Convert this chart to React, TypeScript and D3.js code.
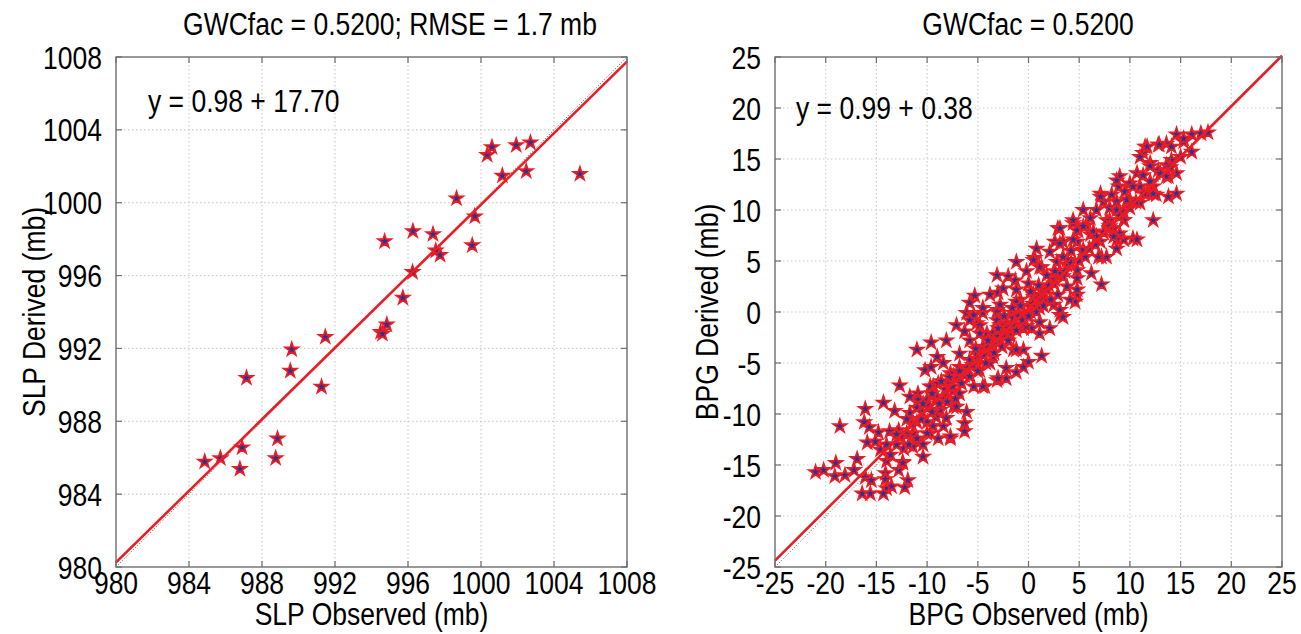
import React from "react";
import * as d3 from "d3";

// ---------- Data ----------
const slpTicks = [980, 984, 988, 992, 996, 1000, 1004, 1008];
const bpgTicks = [-25, -20, -15, -10, -5, 0, 5, 10, 15, 20, 25];

const slpObserved = [984.86, 985.72, 986.91, 986.79, 987.15, 988.85, 988.75, 989.63, 989.55, 991.26, 991.47, 994.5, 994.6, 994.84, 994.72, 995.72, 996.25, 996.27, 997.37, 997.52, 997.76, 998.66, 999.52, 999.66, 1000.34, 1000.6, 1001.17, 1001.93, 1002.71, 1002.48, 1005.42];
const slpDerived = [985.78, 985.97, 986.56, 985.38, 990.38, 987.05, 985.97, 991.94, 990.77, 989.89, 992.63, 992.9, 992.8, 993.31, 997.88, 994.78, 996.19, 998.44, 998.27, 997.37, 997.13, 1000.23, 997.66, 999.25, 1002.62, 1003.05, 1001.48, 1003.16, 1003.3, 1001.73, 1001.58];

const slpFitX = [980, 1008];
const slpFitY = [980.25, 1007.75];
const bpgFitX = [-25, 25];
const bpgFitY = [-24.37, 25.13];

const bpgPoints: [number, number][] = [
  [-12.7,-7.2],[-14.3,-8.9],[-16.1,-9.5],[-13.2,-9.7],[-18.6,-11.2],[-16.2,-10.8],[-15.7,-11.3],[-14.8,-11.8],[-15.9,-12.8],[-15.1,-12.7],[-13.7,-11.7],[-12.8,-11.6],[-12.3,-13.4],[-10.4,-14.2],[-19.0,-14.8],[-21.0,-15.7],[-20.2,-15.5],[-19.1,-16.1],[-18.1,-16.0],[-16.9,-14.4],[-17.2,-15.5],[-14.0,-14.6],[-12.4,-14.7],[-12.8,-15.5],[-16.1,-16.2],[-15.5,-16.5],[-14.1,-15.8],[-14.1,-16.4],[-14.0,-17.3],[-13.5,-17.1],[-11.9,-16.5],[-12.2,-17.2],[-16.4,-17.8],[-15.6,-17.8],[-14.3,-17.8],
  [-11.7,-9.9],[-11.0,-9.4],[-10.0,-10.8],[-9.4,-11.2],[-8.4,-11.2],[-8.1,-10.4],[-7.7,-12.4],[-8.9,-12.4],[-9.7,-11.9],[-11.0,-12.7],[-11.4,-11.9],[-12.0,-11.9],[-10.0,-8.6],[-9.4,-7.3],[-8.4,-8.3],[-7.4,-7.7],[-7.4,-9.3],[-8.7,-9.6],[-10.9,-8.0],[-7.9,-7.0],
  [-11.0,-3.7],[-9.6,-3.0],[-8.1,-2.8],[-7.1,-1.3],[-5.3,1.6],[-3.8,1.7],[-3.0,1.9],
  [-10.2,-5.7],[-9.0,-4.4],[-9.6,-5.4],[-8.4,-5.0],[-9.7,-7.3],[-8.9,-7.0],[-7.4,-6.3],[-8.2,-8.3],[-6.8,-8.0],[-5.4,-7.3],[-4.3,-7.3],[-3.1,-6.7],[-2.2,-5.5],[-1.2,-5.9],[-0.5,-3.7],[0.3,-1.6],[-1.5,-3.7],[-2.8,-2.8],[-4.1,-2.1],[-5.8,-2.8],[-6.8,-4.1],[-5.8,-4.7],[-4.8,-5.7],[-6.8,-5.4],[-5.1,-1.1],[-4.5,-0.1],[-3.1,0.2],[-1.5,-0.1],[-2.2,-1.1],[-0.8,1.2],[0.2,0.5],[-6.1,-0.1],[-5.8,0.9],[-7.7,-6.0],[-3.5,-4.4],[-4.5,-3.4],[-2.2,-6.5],[-10.9,-8.6],[-11.7,-8.3],[-9.1,-8.6],[-7.1,-9.3],
  [-2.0,3.5],[-1.3,3.1],[0.0,2.8],[0.6,5.3],[1.3,4.4],[2.9,8.2],[4.4,8.7],[4.9,8.0],[5.7,8.5],[7.2,5.4],[7.7,5.4],[6.2,3.8],[7.2,2.7],[4.8,1.7],[4.6,1.0],[3.8,2.5],[2.9,1.7],[2.5,0.7],[1.1,0.4],[0.2,0.0],[-1.2,1.0],[-2.8,0.7],[-4.5,0.4],[-5.4,-0.3],[-4.8,-1.3],[-2.8,-1.3],[-1.5,-0.6],[-0.5,-1.6],[1.1,-1.0],[2.1,-1.6],[3.1,-0.3],[0.5,1.7],[-0.2,4.0],[0.8,6.2],[2.1,5.9],[2.8,4.9],[3.4,6.9],[4.8,6.9],[5.4,5.9],[6.1,7.6],[7.1,6.9],[8.4,8.2],[9.4,9.0],[9.4,7.1],[8.7,6.2],[-2.5,2.3],[-3.1,3.6],[-1.2,4.9],[1.5,2.0],[-3.1,0.0],[-6.3,-1.9],[-3.5,-2.1],[-1.8,-2.3],[3.8,4.6],[4.8,3.3],
  [17.7,17.6],[16.1,17.4],[15.3,16.7],[14.6,17.4],[16.1,15.7],[13.6,16.5],[12.8,16.4],[11.5,16.2],[11.3,15.6],[14.1,14.9],[12.0,14.6],[12.8,13.9],[13.6,14.4],[14.6,13.6],[13.8,13.3],[10.7,13.6],[11.3,13.4],[9.0,13.3],[10.0,12.6],[8.9,12.3],[11.0,12.3],[12.3,12.3],[7.1,11.6],[8.2,11.5],[9.5,11.8],[11.7,11.6],[12.6,11.5],[13.8,11.3],[7.4,10.8],[8.7,10.8],[10.0,11.0],[11.0,10.7],[5.4,10.0],[6.7,10.0],[8.0,10.2],[9.4,9.8],[12.3,9.0],[4.4,9.0],[6.1,9.2],[7.7,9.0],[9.4,9.0],[3.1,8.2],[4.8,8.0],[6.4,7.9],[8.0,8.2],[9.0,7.7],[10.3,7.2],[8.7,7.1],[2.6,6.9],[4.4,7.1],
  [17.0,17.5],[15.3,17.0],[14.1,16.2],[12.9,16.4],
  [1.3,-4.3],[0.0,-4.9],[-3.0,-6.5],[-4.5,-7.3],[-6.3,-10.9],[-6.3,-11.7],[-6.1,-9.8],[-7.7,-12.2],[3.1,0.2],[3.4,-0.5],[-0.2,-1.4],[-1.2,-3.7],[-3.8,-5.0],[-5.1,-4.1],[-4.8,-2.1],[-5.8,-0.8],[-3.1,-0.8],[-1.8,-2.1],[1.1,-2.1],[-0.5,-5.4],[-8.4,-8.6],[-9.1,-10.3],[-10.0,-11.9],[-11.4,-13.2],[-12.4,-14.8],[-14.6,-13.5],
  [10.7,7.1],[6.9,5.4],[4.8,2.2],[4.1,1.2],[2.5,2.8],[1.1,4.4],[0.5,5.1],[-1.2,2.2],[3.1,6.7],[5.4,8.4],[7.1,11.3],[8.7,12.9],[11.0,15.2],[11.7,16.2],[12.0,14.3],[13.6,13.3],[14.6,11.6],[12.3,11.6],[10.3,12.3],[9.7,11.0],[8.7,10.0],[8.0,9.0],[6.7,7.4],[8.4,7.4],[5.4,6.1],[3.8,5.1],[4.8,4.1],[3.4,3.5],[1.8,2.2],[0.5,1.5],
  [-12,-12],[-11,-10.8],[-10.5,-9.8],[-9.8,-9.2],[-9,-8.4],[-8.2,-7.6],[-7.5,-7.3],[-7,-6.5],[-6.3,-6.2],[-6,-5.5],[-5.5,-5.2],[-5,-4.6],[-4.4,-4.2],[-4,-3.5],[-3.5,-3.2],[-3,-2.4],[-2.5,-2.2],[-2,-1.6],[-1.4,-1.2],[-1,-0.4],[-0.4,-0.2],[0.4,0.8],[1,1.4],[1.6,1.3],[2,2.6],[2.6,3.2],[3,3.8],[3.6,4],[4.2,4.8],[5,5],[5.6,5.4],[6,6.2],[6.6,6.6],[7.4,7.8],[8,8.4],[9,9.4],[10,10.2],[10.6,10.8],[11.4,11.6],[12,12.8],[13,13.6],[14,14.2],[15,15.2],
  [-13,-13],[-12.6,-12.2],[-11.5,-11],[-10.6,-10.5],[-9.5,-9.8],[-8.8,-9],[-8,-8.8],[-7.2,-8.5],[-6.6,-7],[-5.8,-6.3],[-5,-5.8],[-4.2,-5],[-3.4,-4],[-2.6,-3.4],[-2,-2.8],[-1.2,-1.8],[-0.6,-0.8],[0,-0.4],[0.8,0],[1.5,0.6],[2.2,1.2],[-7.8,-6.4],[-6.8,-5.8],[-5.2,-3.6],[-4,-2.8],[-3,-1.6],[-2.4,-0.4],[-1.6,0.4],[-0.8,0.6],[0.2,2],[1,2.6],[1.8,3.6],[2.6,4],[3.4,5.4],[4.2,6],[-9.5,-8],[-10.4,-9],[-8.6,-6.8],[-12,-10.5],[-13,-12],[-14,-13],[-13.6,-14],[-11.8,-13],[-11,-12.4],[-10.4,-13],
];

// ---------- Style ----------
const FONT = "'Liberation Sans', Arial, Helvetica, sans-serif";
const FS = 26.5;
const SY = 1.2;
const RED = "#ec1c24";
const BLUE = "#2e3192";
const BOX = "#6e6e6e";

const starPath = d3.symbol().type(d3.symbolStar).size(54)()!;

function Txt({ x, y, anchor = "middle", rotate = 0, size = FS, children }: any) {
  return (
    <g transform={`translate(${x},${y}) rotate(${rotate}) scale(1,${SY})`}>
      <text x={0} y={0} textAnchor={anchor} fontFamily={FONT} fontSize={size} fill="#000">
        {children}
      </text>
    </g>
  );
}

type PanelProps = {
  left: number; top: number; width: number; height: number;
  domain: [number, number]; ticks: number[];
  xs: number[]; ys: number[];
  fitX: number[]; fitY: number[];
  title: string; eq: string; xLabel: string; yLabel: string;
  yLabelX: number; eqDx: number; eqDy: number; titleX: number;
};

function Panel(p: PanelProps) {
  const x = d3.scaleLinear().domain(p.domain).range([p.left, p.left + p.width]);
  const y = d3.scaleLinear().domain(p.domain).range([p.top + p.height, p.top]);
  const r = p.left + p.width;
  const b = p.top + p.height;
  const tl = 6;
  const line = d3.line<[number, number]>().x((d) => x(d[0])).y((d) => y(d[1]));
  const fit: [number, number][] = p.fitX.map((v, i) => [v, p.fitY[i]]);
  const diag: [number, number][] = [[p.domain[0], p.domain[0]], [p.domain[1], p.domain[1]]];
  const inner = p.ticks.slice(1, -1);
  return (
    <g>
      <rect x={p.left} y={p.top} width={p.width} height={p.height} fill="#fff" />
      {inner.map((t) => (
        <g key={"g" + t}>
          <line x1={x(t)} x2={x(t)} y1={p.top} y2={b} stroke="#cdcdcd" strokeWidth={1.2} strokeDasharray="1.5,2.5" />
          <line x1={p.left} x2={r} y1={y(t)} y2={y(t)} stroke="#cdcdcd" strokeWidth={1.2} strokeDasharray="1.5,2.5" />
        </g>
      ))}
      <path d={line(diag)!} stroke="#555" strokeWidth={1} strokeDasharray="1,2" fill="none" />
      {p.xs.map((v, i) => (
        <path key={"p" + i} d={starPath} transform={`translate(${x(v)},${y(p.ys[i])})`} fill={BLUE} stroke={RED} strokeWidth={1.7} strokeLinejoin="miter" />
      ))}
      <path d={line(fit)!} stroke={RED} strokeWidth={2.6} fill="none" />
      <rect x={p.left} y={p.top} width={p.width} height={p.height} fill="none" stroke={BOX} strokeWidth={1.4} />
      {p.ticks.map((t) => (
        <g key={"t" + t}>
          <line x1={x(t)} x2={x(t)} y1={b} y2={b - tl} stroke={BOX} strokeWidth={1.2} />
          <line x1={x(t)} x2={x(t)} y1={p.top} y2={p.top + tl} stroke={BOX} strokeWidth={1.2} />
          <line x1={p.left} x2={p.left + tl} y1={y(t)} y2={y(t)} stroke={BOX} strokeWidth={1.2} />
          <line x1={r} x2={r - tl} y1={y(t)} y2={y(t)} stroke={BOX} strokeWidth={1.2} />
          <Txt x={x(t)} y={b + 27}>{String(t)}</Txt>
          <Txt x={p.left - 14} y={y(t) + 11.5} anchor="end">{String(t)}</Txt>
        </g>
      ))}
      <Txt x={p.titleX} y={35}>{p.title}</Txt>
      <Txt x={p.left + p.width / 2} y={625}>{p.xLabel}</Txt>
      <Txt x={p.yLabelX} y={p.top + p.height / 2} rotate={-90}>{p.yLabel}</Txt>
      <Txt x={p.left + p.eqDx} y={p.top + p.eqDy} anchor="start">{p.eq}</Txt>
    </g>
  );
}

export default function App() {
  const bx = bpgPoints.map((d) => d[0]);
  const by = bpgPoints.map((d) => d[1]);
  return (
    <svg width={1301} height={634} style={{ position: "absolute", left: 0, top: 0, background: "#fff" }}>
      <rect x={0} y={0} width={1301} height={634} fill="#fff" />
      <Panel left={116} top={57} width={511} height={510} domain={[980, 1008]} ticks={slpTicks}
        xs={slpObserved} ys={slpDerived} fitX={slpFitX} fitY={slpFitY}
        title="GWCfac = 0.5200; RMSE = 1.7 mb" eq="y = 0.98 + 17.70"
        xLabel="SLP Observed (mb)" yLabel="SLP Derived (mb)" yLabelX={45}
        eqDx={32} eqDy={55} titleX={390} />
      <Panel left={775} top={57} width={507} height={510} domain={[-25, 25]} ticks={bpgTicks}
        xs={bx} ys={by} fitX={bpgFitX} fitY={bpgFitY}
        title="GWCfac = 0.5200" eq="y = 0.99 + 0.38"
        xLabel="BPG Observed (mb)" yLabel="BPG Derived (mb)" yLabelX={718}
        eqDx={21} eqDy={62} titleX={1028} />
    </svg>
  );
}
